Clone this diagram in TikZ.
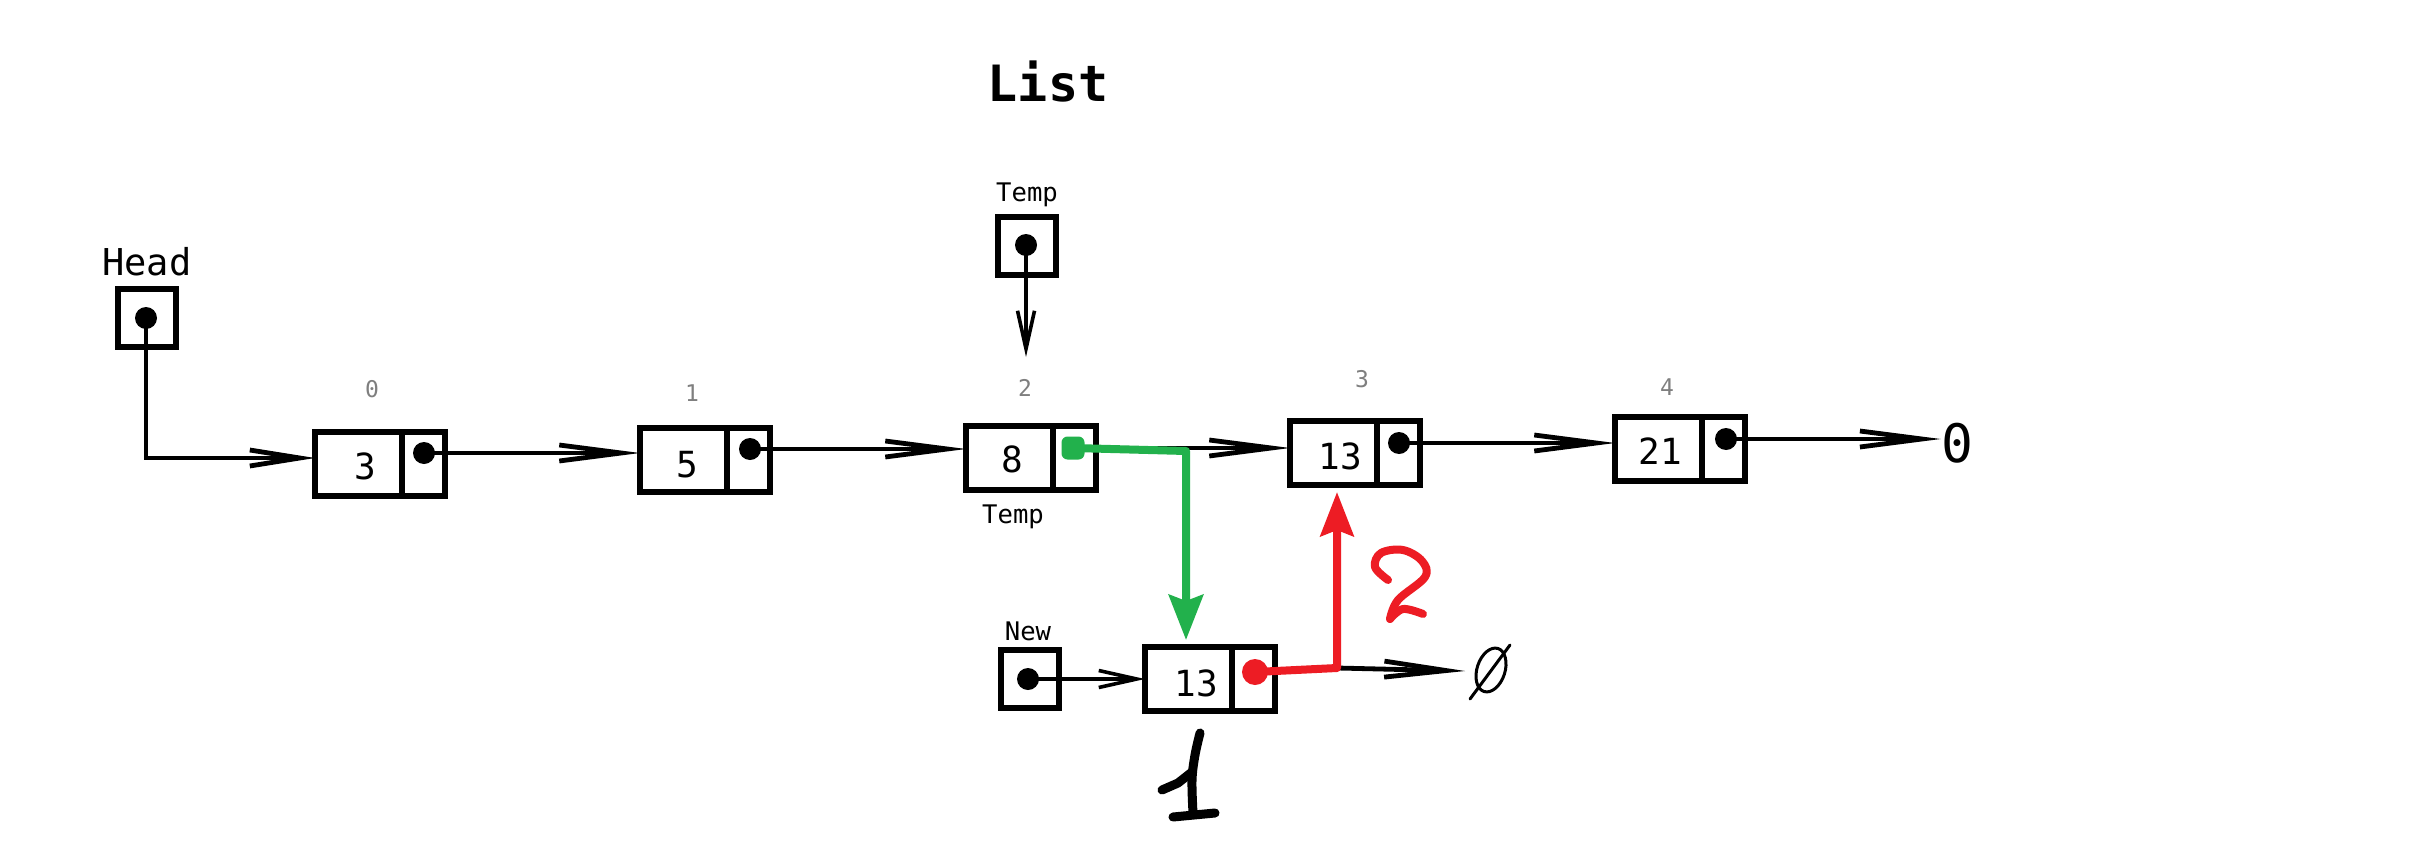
\documentclass[tikz,border=0pt]{standalone}
\usepackage{fontspec}
\usetikzlibrary{arrows.meta}
\newfontfamily\monof{DejaVu Sans Mono}
\definecolor{pgreen}{HTML}{22B14C}
\definecolor{pred}{HTML}{ED1C24}
\definecolor{idxgray}{HTML}{7F7F7F}
\tikzset{
  cellbox/.style={draw, line width=3pt, minimum height=32pt, inner sep=0pt, outer sep=0pt},
  valcell/.style={cellbox, minimum width=43.5pt},
  ptrcell/.style={cellbox, minimum width=21.5pt},
  varbox/.style={draw, line width=3pt, minimum width=29pt, minimum height=29pt, inner sep=0pt, outer sep=0pt},
  ptrdot/.style={circle, fill=black, minimum size=11pt, inner sep=0pt},
  valtxt/.style={font=\monof\fontsize{18}{20}\selectfont, inner sep=0pt, anchor=base},
  idxtxt/.style={font=\monof\fontsize{11.5}{13}\selectfont, text=idxgray, inner sep=0pt, anchor=base},
  vartxt/.style={font=\monof\fontsize{12.8}{15}\selectfont, inner sep=0pt, anchor=base},
  headtxt/.style={font=\monof\fontsize{18.5}{21}\selectfont, inner sep=0pt, anchor=base},
  titletxt/.style={font=\monof\bfseries\fontsize{25}{28}\selectfont, inner sep=0pt, anchor=base},
  nulltxt/.style={font=\monof\fontsize{26.5}{30}\selectfont, inner sep=0pt, anchor=base},
  link/.style={line width=2.4pt, -{Straight Barb[length=31pt,width=8pt]}},
  headlink/.style={line width=2.4pt, -{Straight Barb[length=25pt,width=8pt]}},
  thinlink/.style={line width=1.8pt, -{Straight Barb[length=19pt,width=8.5pt]}},
  greenlink/.style={draw=pgreen, line width=4pt, line cap=round, line join=round, -{Stealth[length=22.5pt,width=17pt,inset=3pt]}, color=pgreen},
  redlink/.style={draw=pred, line width=4pt, line cap=round, line join=round, -{Stealth[length=22pt,width=16.5pt,inset=3pt]}, color=pred},
  handred/.style={draw=pred, line width=4pt, line cap=round, line join=round},
  handblack/.style={draw=black, line width=4.5pt, line cap=round, line join=round},
  handthin/.style={draw=black, line width=1.5pt, line cap=round, line join=round}
}
\begin{document}
\begin{tikzpicture}[x=0.5pt,y=-0.5pt]
\path[fill=white] (0,0) rectangle (2418,856);
\useasboundingbox (0,0) rectangle (2418,856);

% title
\node[titletxt] (title) at (1048,102) {List};

% Head variable
\node[headtxt] (headlbl) at (147,275) {Head};
\node[varbox] (hb) at (146.5,317.5) {};
\node[ptrdot] (dh) at (146,318) {};

% Temp variable
\node[vartxt] (templbl) at (1027,201) {Temp};
\node[varbox] (tb) at (1026.5,245.5) {};
\node[ptrdot] (dt) at (1026,245) {};
\coordinate (temptip) at (1026,357);

% New variable
\node[vartxt] (newlbl) at (1028,640) {New};
\node[varbox] (nb) at (1029.5,679) {};
\node[ptrdot] (dn) at (1028,679) {};

% list nodes
\node[valcell] (n0v) at (358.5,464) {};
\node[ptrcell] (n0p) at (423.5,464) {};
\node[valtxt] (t0) at (365,479) {3};
\node[idxtxt] (i0) at (372,397) {0};
\node[ptrdot] (d0) at (424,453) {};

\node[valcell] (n1v) at (683.5,460) {};
\node[ptrcell] (n1p) at (748.5,460) {};
\node[valtxt] (t1) at (687,477) {5};
\node[idxtxt] (i1) at (692,401) {1};
\node[ptrdot] (d1) at (750,449) {};

\node[valcell] (n2v) at (1009.5,458) {};
\node[ptrcell] (n2p) at (1074.5,458) {};
\node[valtxt] (t2) at (1012,472) {8};
\node[idxtxt] (i2) at (1025,396) {2};
\node[vartxt] (templbl2) at (1013,523) {Temp};

\node[valcell] (n3v) at (1333.5,453) {};
\node[ptrcell] (n3p) at (1398.5,453) {};
\node[valtxt] (t3) at (1340,469) {13};
\node[idxtxt] (i3) at (1362,387) {3};
\node[ptrdot] (d3) at (1399,443) {};

\node[valcell] (n4v) at (1658.5,449) {};
\node[ptrcell] (n4p) at (1723.5,449) {};
\node[valtxt] (t4) at (1660,464) {21};
\node[idxtxt] (i4) at (1667,395) {4};
\node[ptrdot] (d4) at (1726,439) {};

\node[nulltxt] (z) at (1957,462) {0};

% new node
\node[valcell] (nnv) at (1188.5,679) {};
\node[ptrcell] (nnp) at (1253.5,679) {};
\node[valtxt] (tn) at (1196,696) {13};

% black connectors
\draw[headlink] (dh.center) |- ([yshift=3pt]n0v.west);
\draw[link] (d0.center) -- (d0.center -| n1v.west);
\draw[link] (d1.center) -- (d1.center -| n2v.west);
\coordinate (d2c) at (1073,448);
\draw[link] (d2c) -- (d2c -| n3v.west);
\draw[link] (d3.center) -- (d3.center -| n4v.west);
\draw[link] (d4.center) -- (d4.center -| z.west);
\draw[thinlink] (dt.center) -- (temptip);
\draw[thinlink] (dn.center) -- (dn.center -| nnv.west);

% null symbol (hand drawn) and link to it
\coordinate (rc) at (1337,668);
\coordinate (nullL) at (1465,671);
\draw[link] (rc) -- (nullL);
\draw[handthin, rotate around={-18:(1491,670)}] (1491,670) ellipse [x radius=7pt, y radius=11.3pt];
\draw[handthin] (1470,699) -- (1510,645);

% green (step 1)
\coordinate (gc) at (1186,451);
\draw[greenlink, shorten >=3.5pt] (d2c) -- (gc) -- (gc |- nnv.north);
\node[fill=pgreen, rounded corners=3pt, minimum size=11.5pt, inner sep=0pt] (d2) at (1073,448) {};

% red (step 2)
\draw[redlink, shorten >=3.5pt] (1255,672) -- (rc) -- (rc |- n3v.south);
\node[circle, fill=pred, minimum size=13pt, inner sep=0pt] (dnn) at (1255,672) {};

% hand-drawn "2"
\draw[handred] plot[smooth, tension=0.6] coordinates {(1388,580) (1375,567) (1381,553) (1403,550) (1422,561) (1425,577) (1398,600) (1390,619)};
\draw[handred] plot[smooth, tension=0.6] coordinates {(1390,619) (1403,609) (1423,614)};

% hand-drawn "1"
\draw[handblack] plot[smooth, tension=0.6] coordinates {(1200,733) (1195,755) (1192,780) (1193,813)};
\draw[handblack] (1162,790) -- (1178,783) -- (1192,772);
\draw[handblack] (1173,817) -- (1215,813);
\end{tikzpicture}
\end{document}
